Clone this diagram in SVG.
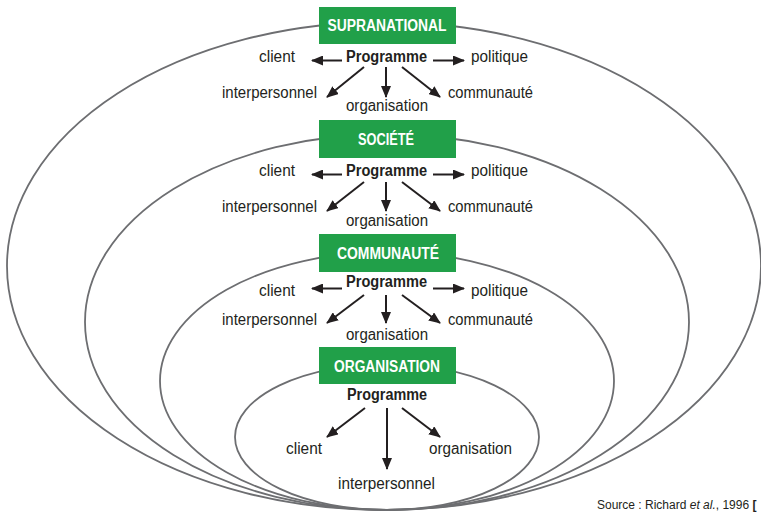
<svg xmlns="http://www.w3.org/2000/svg" width="761" height="513" viewBox="0 0 761 513">
<style>
.ring{fill:none;stroke:#6d6e71;stroke-width:1.8}
.box{fill:#21a049}
.ttl{font-family:"Liberation Sans",Arial,sans-serif;font-weight:bold;font-size:16px;fill:#fff;text-anchor:middle}
.prg{font-family:"Liberation Sans",Arial,sans-serif;font-weight:bold;font-size:16px;fill:#231f20}
.lbl{font-family:"Liberation Sans",Arial,sans-serif;font-size:16px;fill:#231f20}
.src{font-family:"Liberation Sans",Arial,sans-serif;font-size:12px;fill:#231f20}
.arr{stroke:#231f20;stroke-width:2;fill:none;marker-end:url(#ah)}
</style>
<defs>
<marker id="ah" viewBox="0 0 12 10" refX="11" refY="5" markerWidth="12" markerHeight="10" markerUnits="userSpaceOnUse" orient="auto">
<path d="M0,0 L12,5 L0,10 z" fill="#231f20"/>
</marker>
</defs>
<rect width="761" height="513" fill="#fff"/>
<g id="rings">
<ellipse class="ring" cx="384" cy="266" rx="377" ry="244"/>
<ellipse class="ring" cx="387" cy="322" rx="302" ry="188"/>
<ellipse class="ring" cx="387" cy="381" rx="227" ry="129"/>
<ellipse class="ring" cx="387" cy="437" rx="152" ry="73"/>
</g>
<g id="connectors">
<line class="arr" x1="342" y1="60.5" x2="312" y2="60.5"/>
<line class="arr" x1="433" y1="60.5" x2="464" y2="60.5"/>
<line class="arr" x1="364" y1="67" x2="327" y2="97"/>
<line class="arr" x1="386" y1="67" x2="386" y2="97"/>
<line class="arr" x1="402" y1="67" x2="440" y2="97"/>

<line class="arr" x1="342" y1="174.5" x2="312" y2="174.5"/>
<line class="arr" x1="433" y1="174.5" x2="464" y2="174.5"/>
<line class="arr" x1="364" y1="182" x2="327" y2="211"/>
<line class="arr" x1="386" y1="182" x2="386" y2="211"/>
<line class="arr" x1="402" y1="182" x2="440" y2="211"/>

<line class="arr" x1="342" y1="288.5" x2="312" y2="288.5"/>
<line class="arr" x1="433" y1="288.5" x2="464" y2="288.5"/>
<line class="arr" x1="364" y1="295" x2="327" y2="323"/>
<line class="arr" x1="386" y1="295" x2="386" y2="323"/>
<line class="arr" x1="402" y1="295" x2="440" y2="323"/>

<line class="arr" x1="365" y1="408" x2="327" y2="437"/>
<line class="arr" x1="387" y1="408" x2="387" y2="469"/>
<line class="arr" x1="402" y1="408" x2="440" y2="437"/>
</g>
<g id="supranational">
<rect class="box" x="319" y="7" width="137" height="37"/>
<text class="ttl" x="387" y="31" textLength="119" lengthAdjust="spacingAndGlyphs">SUPRANATIONAL</text>
<text class="prg" x="346" y="62" textLength="81" lengthAdjust="spacingAndGlyphs">Programme</text>
<text class="lbl" x="259" y="62" textLength="36" lengthAdjust="spacingAndGlyphs">client</text>
<text class="lbl" x="471" y="62" textLength="57" lengthAdjust="spacingAndGlyphs">politique</text>
<text class="lbl" x="222" y="98" textLength="95" lengthAdjust="spacingAndGlyphs">interpersonnel</text>
<text class="lbl" x="346" y="111" textLength="82" lengthAdjust="spacingAndGlyphs">organisation</text>
<text class="lbl" x="448" y="98" textLength="85" lengthAdjust="spacingAndGlyphs">communauté</text>
</g>
<g id="societe">
<rect class="box" x="319" y="120" width="137" height="38"/>
<text class="ttl" x="386" y="145" textLength="56" lengthAdjust="spacingAndGlyphs">SOCIÉTÉ</text>
<text class="prg" x="346" y="176" textLength="81" lengthAdjust="spacingAndGlyphs">Programme</text>
<text class="lbl" x="259" y="176" textLength="36" lengthAdjust="spacingAndGlyphs">client</text>
<text class="lbl" x="471" y="176" textLength="57" lengthAdjust="spacingAndGlyphs">politique</text>
<text class="lbl" x="222" y="212" textLength="95" lengthAdjust="spacingAndGlyphs">interpersonnel</text>
<text class="lbl" x="346" y="226" textLength="82" lengthAdjust="spacingAndGlyphs">organisation</text>
<text class="lbl" x="448" y="212" textLength="85" lengthAdjust="spacingAndGlyphs">communauté</text>
</g>
<g id="communaute">
<rect class="box" x="319" y="234" width="137" height="38"/>
<text class="ttl" x="388" y="259" textLength="102" lengthAdjust="spacingAndGlyphs">COMMUNAUTÉ</text>
<text class="prg" x="346" y="287" textLength="81" lengthAdjust="spacingAndGlyphs">Programme</text>
<text class="lbl" x="259" y="296" textLength="36" lengthAdjust="spacingAndGlyphs">client</text>
<text class="lbl" x="471" y="296" textLength="57" lengthAdjust="spacingAndGlyphs">politique</text>
<text class="lbl" x="222" y="325" textLength="95" lengthAdjust="spacingAndGlyphs">interpersonnel</text>
<text class="lbl" x="346" y="340" textLength="82" lengthAdjust="spacingAndGlyphs">organisation</text>
<text class="lbl" x="448" y="325" textLength="85" lengthAdjust="spacingAndGlyphs">communauté</text>
</g>
<g id="organisation">
<rect class="box" x="319" y="347" width="137" height="37"/>
<text class="ttl" x="387" y="372" textLength="106" lengthAdjust="spacingAndGlyphs">ORGANISATION</text>
<text class="prg" x="347" y="400" textLength="80" lengthAdjust="spacingAndGlyphs">Programme</text>
<text class="lbl" x="286" y="454" textLength="36" lengthAdjust="spacingAndGlyphs">client</text>
<text class="lbl" x="429" y="454" textLength="83" lengthAdjust="spacingAndGlyphs">organisation</text>
<text class="lbl" x="338" y="489" textLength="97" lengthAdjust="spacingAndGlyphs">interpersonnel</text>
</g>
<g id="source">
<text class="src" x="597" y="509">Source : Richard <tspan font-style="italic">et al.</tspan>, 1996 <tspan font-weight="bold">[</tspan></text>
</g>
</svg>
